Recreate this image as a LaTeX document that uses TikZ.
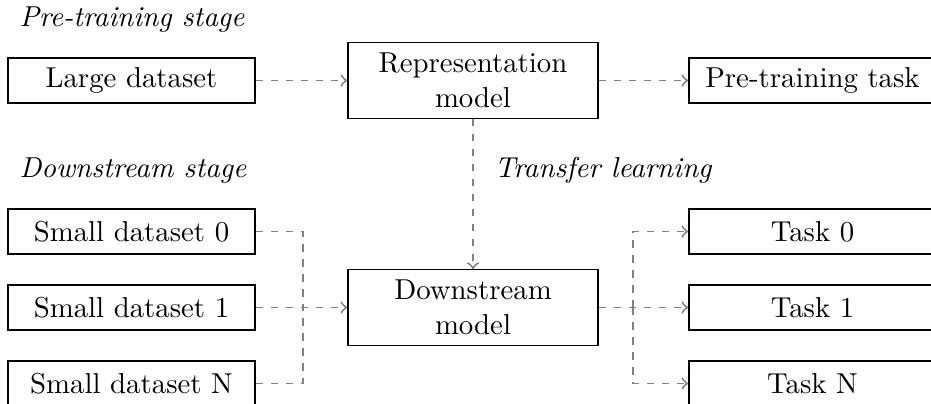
\documentclass[tikz,border=0pt]{standalone}
\usetikzlibrary{arrows}
\begin{document}
\begin{tikzpicture}[
  x=0.3472pt, y=-0.3472pt,
  box/.style={draw, line width=0.5pt, minimum width=85.8pt, minimum height=15.6pt,
              inner sep=0pt, align=center},
  bigbox/.style={box, minimum width=86.8pt, minimum height=26.2pt},
  flow/.style={draw=gray, line width=0.65pt, dash pattern=on 2.6pt off 2.6pt},
  stagelabel/.style={anchor=base west, inner sep=0pt, font=\itshape}
]
\path[use as bounding box, clip] (0,0) rectangle (931,404);

% section labels
\node[stagelabel] (lpre)  at (19,27)  {Pre-training stage};
\node[stagelabel] (ldown) at (19,178) {Downstream stage};
\node[stagelabel] (ltl)   at (494,178) {Transfer learning};

% pre-training row
\node[box]    (large) at (131.5,80.5) {Large dataset};
\node[bigbox] (repr)  at (473,80.5)   {Representation\\model};
\node[box]    (ptask) at (812.5,80.5) {Pre-training task};

% downstream row
\node[box] (s0) at (131.5,231.5) {Small dataset 0};
\node[box] (s1) at (131.5,307.5) {Small dataset 1};
\node[box] (sN) at (131.5,383.5) {Small dataset N};
\node[bigbox] (down) at (473,307.5) {Downstream\\model};
\node[box] (t0) at (812.5,231.5) {Task 0};
\node[box] (t1) at (812.5,307.5) {Task 1};
\node[box] (tN) at (812.5,383.5) {Task N};

% junction points of the merging and splitting lines
\coordinate (jl) at (303,307.5);
\coordinate (jr) at (633,307.5);

% connectors
\draw[flow, ->] (large) -- (repr);
\draw[flow, ->] (repr) -- (ptask);
\draw[flow, ->] (repr) -- (down);

\draw[flow] (s0.east) -| (jl);
\draw[flow] (sN.east) -| (jl);
\draw[flow, ->] (s1) -- (down);

\draw[flow, ->] (down) -- (t1);
\draw[flow, ->] (jr) |- (t0.west);
\draw[flow, ->] (jr) |- (tN.west);
\end{tikzpicture}
\end{document}
